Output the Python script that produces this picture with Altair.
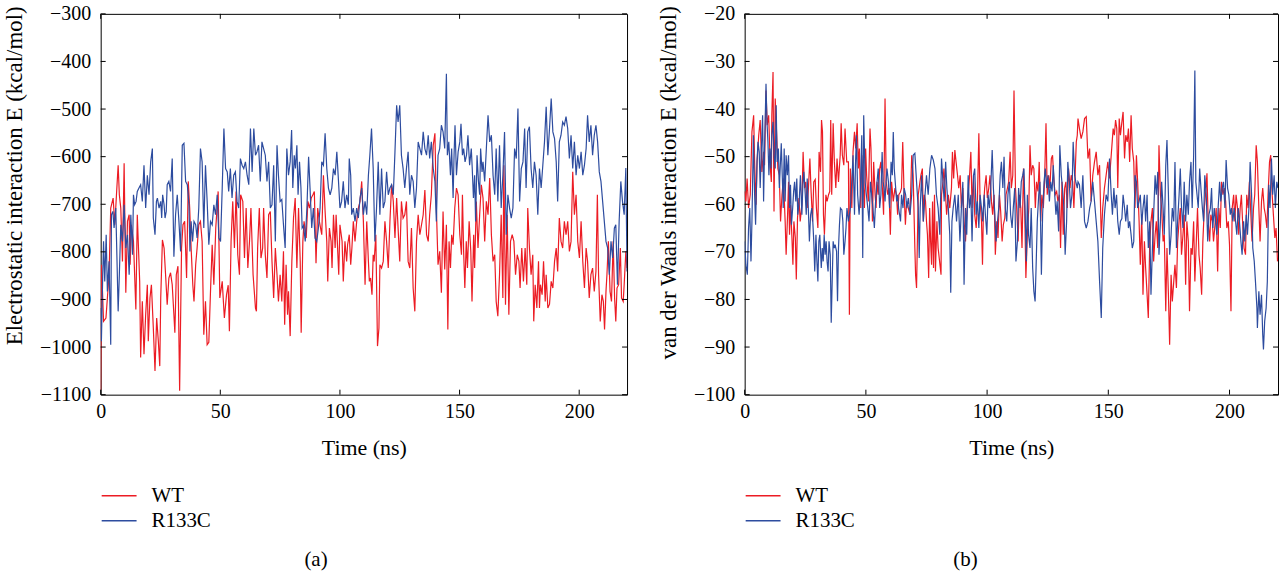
import altair as alt
import pandas as pd

FONT = "Liberation Serif"
RED = "#EC1C24"
BLUE = "#2D4C9F"

time_ticks = [0, 50, 100, 150, 200]
elec_ticks = [-1100, -1000, -900, -800, -700, -600, -500, -400, -300]
vdw_ticks = [-100, -90, -80, -70, -60, -50, -40, -30, -20]

# (time ns, electrostatic energy kcal/mol)
wt_elec = [
    (0.0, -1090), (0.35, -827), (1.2, -946), (2.2, -939), (2.8, -897), (3.5, -848), (4.2, -708), (5.2, -687),
    (5.9, -743), (6.6, -680), (7.3, -618), (7.8, -680), (8.4, -708), (9.1, -820), (9.8, -614), (10.5, -886),
    (11.2, -736), (11.9, -722), (12.3, -827), (12.8, -743), (13.7, -778), (14.7, -921), (15.3, -722), (16.3, -862),
    (16.7, -1022), (17.4, -904), (18.1, -1015), (18.8, -932), (19.5, -869), (19.9, -988), (20.6, -897), (21.2, -869),
    (22.0, -960), (22.7, -1050), (23.4, -939), (24.1, -988), (24.7, -1040), (25.1, -897), (25.8, -775), (26.5, -792),
    (27.2, -855), (27.8, -911), (28.5, -855), (29.2, -844), (29.9, -869), (30.6, -932), (31.0, -970), (31.6, -848),
    (32.3, -830), (33.0, -1092), (33.8, -792), (34.4, -743), (35.1, -736), (35.9, -855), (36.6, -652), (37.2, -708),
    (37.8, -792), (38.5, -869), (39.0, -904), (39.7, -827), (40.3, -792), (41.0, -743), (41.7, -736), (42.4, -778),
    (43.1, -974), (43.8, -904), (44.5, -995), (45.2, -990), (45.9, -883), (46.6, -785), (47.3, -869), (48.1, -750),
    (49.1, -673), (49.8, -897), (50.8, -862), (51.7, -939), (52.6, -890), (53.3, -870), (53.8, -967), (54.5, -778),
    (55.2, -694), (55.9, -792), (56.6, -673), (57.3, -806), (58.0, -848), (58.5, -680), (59.4, -694), (60.1, -813),
    (60.8, -708), (61.5, -834), (62.2, -778), (62.8, -708), (63.7, -848), (64.7, -918), (65.1, -925), (65.6, -792),
    (66.3, -708), (67.0, -813), (67.7, -792), (68.1, -708), (68.8, -806), (69.5, -855), (70.2, -722), (70.9, -715),
    (71.6, -820), (72.3, -897), (73.0, -792), (73.7, -848), (74.3, -904), (75.0, -848), (75.7, -904), (76.4, -799),
    (76.9, -953), (77.5, -827), (78.1, -932), (78.5, -883), (79.2, -977), (79.9, -820), (80.6, -729), (81.3, -687),
    (82.0, -834), (82.7, -708), (83.4, -820), (83.8, -970), (84.5, -778), (85.0, -736), (85.9, -771), (86.6, -694),
    (87.3, -708), (88.0, -687), (88.7, -680), (89.3, -673), (90.0, -824), (90.7, -708), (91.4, -736), (92.4, -764),
    (93.1, -639), (93.8, -715), (94.5, -778), (94.9, -862), (95.6, -750), (96.3, -778), (96.7, -834), (97.3, -722),
    (98.0, -792), (98.4, -722), (98.9, -778), (99.5, -848), (100.0, -743), (100.9, -778), (101.4, -862), (102.1, -778),
    (102.8, -820), (103.2, -785), (103.9, -764), (104.5, -827), (105.0, -792), (105.6, -736), (106.3, -778), (107.0, -736),
    (107.7, -708), (108.4, -694), (109.1, -652), (109.8, -736), (110.5, -869), (111.2, -736), (111.9, -820), (112.3, -862),
    (112.8, -855), (113.4, -890), (113.9, -806), (114.3, -820), (115.0, -764), (115.7, -998), (116.3, -960), (116.7, -827),
    (117.4, -834), (118.1, -820), (118.8, -736), (119.5, -778), (120.2, -834), (120.9, -736), (121.6, -659), (122.3, -694),
    (123.0, -771), (123.7, -687), (124.3, -750), (125.0, -820), (125.7, -694), (126.4, -729), (127.1, -722), (127.8, -694),
    (128.5, -820), (129.2, -834), (129.9, -750), (130.6, -876), (131.3, -925), (132.0, -778), (132.7, -722), (133.4, -764),
    (134.1, -743), (134.8, -722), (135.5, -670), (136.2, -764), (136.9, -778), (137.5, -722), (138.2, -680), (139.0, -576),
    (139.7, -551), (140.3, -708), (141.0, -827), (141.7, -799), (142.4, -886), (143.1, -715), (143.8, -837), (144.5, -743),
    (145.1, -963), (145.6, -778), (146.2, -834), (146.7, -764), (147.3, -785), (148.0, -708), (148.7, -666), (149.4, -680),
    (150.1, -764), (150.8, -806), (151.2, -680), (151.7, -799), (152.2, -876), (152.8, -778), (153.3, -834), (154.0, -736),
    (154.7, -799), (155.2, -904), (155.9, -764), (156.3, -834), (157.0, -694), (157.7, -792), (158.4, -722), (159.1, -659),
    (159.8, -687), (160.5, -778), (161.2, -694), (161.9, -722), (162.6, -645), (163.3, -764), (164.0, -820), (164.7, -806),
    (165.3, -904), (166.0, -935), (166.7, -848), (167.4, -722), (168.1, -897), (168.5, -618), (169.2, -911), (169.9, -722),
    (170.6, -932), (171.3, -778), (172.0, -764), (172.7, -778), (173.4, -848), (174.1, -806), (174.8, -820), (175.3, -876),
    (176.0, -792), (176.7, -862), (177.4, -792), (178.1, -869), (178.5, -708), (179.2, -792), (179.9, -848), (180.6, -806),
    (181.0, -946), (181.6, -869), (182.3, -918), (183.0, -820), (183.4, -918), (183.8, -869), (184.5, -890), (185.1, -820),
    (185.8, -904), (186.2, -848), (186.9, -918), (187.6, -910), (188.3, -862), (189.0, -876), (189.7, -820), (190.4, -792),
    (191.0, -841), (191.7, -729), (192.4, -778), (193.1, -792), (193.8, -736), (194.5, -764), (195.2, -736), (195.9, -799),
    (196.6, -778), (197.3, -632), (198.0, -722), (198.7, -680), (199.4, -778), (200.1, -813), (200.8, -736), (201.5, -820),
    (202.2, -876), (202.9, -792), (203.5, -820), (204.2, -897), (204.9, -848), (205.6, -834), (206.3, -883), (207.0, -841),
    (207.6, -680), (208.1, -848), (208.8, -946), (209.5, -890), (210.1, -904), (210.6, -963), (211.2, -883), (211.6, -848),
    (212.2, -778), (212.9, -883), (213.5, -904), (214.2, -778), (214.8, -897), (215.3, -946), (215.8, -876), (216.5, -869),
    (217.2, -792), (217.7, -897), (218.4, -904), (218.8, -869), (219.5, -799), (220.0, -834),
]

r133c_elec = [
    (0.0, -918), (0.3, -988), (0.8, -862), (1.2, -778), (1.7, -862), (2.3, -764), (2.8, -883), (3.5, -820),
    (4.2, -995), (4.5, -722), (5.1, -715), (5.6, -750), (6.3, -708), (6.7, -792), (7.3, -925), (7.8, -848),
    (8.4, -743), (9.1, -778), (9.8, -701), (10.5, -792), (11.2, -764), (11.9, -848), (12.6, -722), (13.3, -806),
    (13.7, -680), (14.2, -701), (14.8, -694), (15.3, -673), (16.0, -666), (16.7, -659), (17.4, -694), (18.1, -618),
    (18.8, -708), (19.5, -639), (20.2, -680), (20.9, -611), (21.6, -583), (22.0, -729), (22.7, -764), (23.3, -694),
    (23.7, -687), (24.4, -708), (25.1, -694), (25.5, -729), (25.9, -680), (26.5, -701), (26.9, -729), (27.4, -715),
    (27.8, -659), (28.5, -652), (29.2, -673), (29.9, -604), (30.6, -810), (31.3, -722), (32.0, -680), (32.7, -736),
    (33.4, -799), (34.1, -576), (34.8, -572), (35.5, -652), (36.2, -659), (36.9, -701), (37.3, -799), (37.8, -736),
    (38.4, -778), (39.0, -736), (39.7, -743), (40.3, -771), (41.0, -708), (41.7, -583), (42.4, -611), (43.1, -750),
    (43.8, -618), (44.5, -694), (45.2, -785), (45.9, -736), (46.6, -743), (47.3, -701), (48.0, -722), (48.7, -680),
    (49.4, -771), (50.1, -778), (50.8, -666), (51.5, -541), (52.2, -625), (52.9, -632), (53.5, -673), (54.2, -625),
    (54.9, -687), (55.6, -639), (56.3, -632), (57.0, -694), (57.7, -708), (58.4, -604), (59.1, -618), (59.8, -625),
    (60.5, -611), (61.2, -639), (61.9, -659), (62.6, -541), (63.3, -632), (64.0, -541), (64.7, -597), (65.3, -590),
    (66.0, -576), (66.7, -652), (67.4, -569), (68.1, -583), (68.8, -597), (69.5, -652), (70.2, -611), (70.9, -708),
    (71.6, -701), (72.3, -618), (73.0, -778), (73.7, -576), (74.3, -639), (75.0, -694), (75.7, -690), (76.4, -743),
    (77.1, -792), (77.8, -583), (78.5, -639), (79.2, -611), (79.8, -544), (80.3, -666), (80.9, -597), (81.4, -625),
    (82.0, -576), (82.5, -680), (83.1, -611), (83.7, -666), (84.2, -750), (84.8, -745), (85.5, -778), (86.2, -708),
    (86.9, -600), (87.5, -666), (88.2, -750), (88.9, -708), (89.6, -771), (90.3, -778), (91.0, -750), (91.7, -708),
    (92.4, -611), (93.1, -618), (93.8, -551), (94.5, -625), (95.2, -666), (95.9, -680), (96.6, -666), (97.3, -625),
    (98.0, -639), (98.7, -590), (99.4, -652), (100.0, -708), (100.7, -694), (101.4, -652), (102.1, -708), (102.8, -680),
    (103.5, -701), (103.9, -604), (104.5, -639), (104.9, -722), (105.6, -708), (106.3, -736), (107.0, -708), (107.7, -729),
    (108.4, -687), (109.1, -666), (109.8, -722), (110.5, -694), (111.2, -722), (111.9, -639), (112.5, -597), (113.2, -541),
    (113.9, -625), (114.6, -778), (115.3, -708), (116.0, -611), (116.7, -722), (117.4, -625), (118.1, -708), (118.8, -694),
    (119.5, -632), (120.2, -680), (120.9, -666), (121.6, -659), (122.3, -680), (123.0, -590), (123.7, -492), (124.3, -527),
    (125.0, -492), (125.7, -597), (126.4, -625), (127.1, -666), (127.8, -625), (128.5, -590), (129.2, -680), (129.9, -639),
    (130.6, -652), (131.3, -708), (132.0, -666), (132.7, -569), (133.4, -583), (134.1, -597), (134.8, -548), (135.5, -583),
    (136.2, -597), (136.9, -555), (137.5, -604), (138.2, -569), (139.0, -625), (139.7, -652), (140.3, -736), (141.0, -597),
    (141.7, -583), (142.4, -534), (143.1, -548), (143.8, -583), (144.5, -426), (144.9, -597), (145.5, -569), (146.2, -639),
    (146.7, -583), (147.3, -687), (147.7, -597), (148.1, -534), (148.7, -639), (149.4, -590), (150.1, -569), (150.6, -531),
    (151.2, -597), (151.7, -583), (152.3, -611), (152.9, -597), (153.5, -555), (154.2, -618), (154.9, -583), (155.3, -625),
    (155.8, -687), (156.3, -639), (156.7, -736), (157.3, -597), (157.9, -652), (158.4, -680), (158.8, -583), (159.4, -632),
    (159.8, -611), (160.5, -652), (161.2, -583), (161.9, -513), (162.6, -569), (163.3, -555), (164.0, -639), (164.7, -680),
    (165.3, -583), (166.0, -694), (166.7, -576), (167.4, -708), (168.1, -639), (168.8, -548), (169.5, -764), (170.2, -680),
    (170.9, -708), (171.6, -729), (172.3, -708), (173.0, -583), (173.7, -604), (174.4, -499), (175.1, -694), (175.8, -625),
    (176.5, -611), (177.2, -541), (177.8, -666), (178.5, -548), (179.2, -537), (179.9, -625), (180.6, -666), (181.3, -611),
    (182.0, -639), (182.7, -722), (183.4, -625), (184.1, -666), (184.8, -618), (185.5, -569), (186.2, -495), (186.9, -597),
    (187.6, -541), (188.3, -478), (189.0, -548), (189.7, -562), (190.4, -611), (191.0, -694), (191.7, -569), (192.4, -555),
    (193.1, -527), (193.8, -534), (194.5, -516), (195.2, -541), (195.9, -604), (196.6, -555), (197.3, -625), (198.0, -569),
    (198.7, -639), (199.4, -597), (200.1, -625), (200.8, -590), (201.5, -639), (202.2, -618), (202.9, -583), (203.5, -513),
    (204.2, -569), (204.9, -534), (205.6, -597), (206.3, -555), (207.0, -534), (207.7, -569), (208.4, -632), (209.1, -652),
    (209.8, -694), (210.5, -736), (211.2, -778), (211.9, -792), (212.6, -848), (213.3, -778), (214.0, -813), (214.7, -750),
    (215.3, -743), (216.0, -869), (216.7, -736), (217.4, -652), (218.1, -694), (218.8, -722), (219.5, -624), (220.0, -841),
]

# (time ns, van der Waals energy kcal/mol)
wt_vdw = [
    (0.0, -57.3), (0.5, -59.4), (1.0, -54.6), (1.6, -60.8), (2.3, -58.0), (3.0, -44.8), (3.7, -41.3), (4.1, -51.1),
    (4.7, -60.1), (5.1, -51.1), (5.8, -45.5), (6.4, -42.3), (7.1, -53.2), (7.8, -49.0), (8.2, -51.8), (8.8, -36.1),
    (9.3, -43.4), (9.9, -41.3), (10.6, -52.5), (11.0, -55.3), (11.2, -41.3), (11.7, -32.2), (12.1, -61.5), (12.6, -37.8),
    (13.2, -45.5), (13.7, -52.5), (14.3, -53.9), (14.8, -63.6), (15.4, -58.0), (16.0, -54.6), (16.7, -63.6), (17.1, -70.6),
    (17.7, -62.2), (18.1, -55.3), (18.5, -66.4), (18.9, -60.1), (19.5, -67.1), (19.9, -72.7), (20.3, -63.6), (20.9, -67.1),
    (21.3, -75.8), (21.8, -62.9), (22.4, -58.7), (22.9, -63.6), (23.6, -60.1), (24.1, -49.0), (24.7, -56.6), (25.2, -55.3),
    (25.8, -60.8), (26.3, -56.6), (26.9, -50.4), (27.4, -57.3), (28.0, -63.6), (28.5, -55.3), (29.1, -54.8), (29.6, -60.8),
    (30.2, -65.0), (30.7, -49.0), (31.3, -53.2), (31.7, -42.3), (32.1, -44.8), (32.5, -62.2), (32.9, -66.4), (33.5, -58.0),
    (34.0, -59.4), (34.6, -58.0), (35.1, -57.3), (35.5, -42.3), (35.9, -58.0), (36.5, -43.0), (37.0, -51.1), (37.6, -56.6),
    (38.1, -50.4), (38.7, -55.3), (39.4, -49.7), (39.8, -43.0), (40.3, -49.7), (40.9, -51.8), (41.4, -44.1), (42.1, -51.1),
    (42.8, -51.1), (43.2, -83.2), (43.6, -52.5), (44.2, -60.8), (44.7, -49.0), (45.3, -44.8), (45.8, -48.3), (46.4, -43.0),
    (46.9, -52.5), (47.3, -48.3), (47.9, -60.8), (48.3, -49.7), (48.8, -54.6), (49.4, -60.8), (49.9, -48.3), (50.3, -53.9),
    (51.0, -59.4), (51.7, -44.1), (52.1, -48.3), (52.7, -63.6), (53.2, -51.1), (53.8, -58.0), (54.2, -60.8), (54.6, -55.3),
    (55.1, -58.0), (55.7, -52.5), (56.2, -51.1), (56.8, -56.6), (57.3, -62.2), (57.9, -37.8), (58.4, -55.3), (59.0, -58.0),
    (59.5, -56.6), (60.1, -66.4), (60.6, -55.3), (61.3, -59.4), (62.0, -56.6), (62.6, -58.0), (63.1, -62.2), (63.6, -58.0),
    (64.2, -57.5), (64.7, -56.6), (65.2, -46.9), (65.7, -56.6), (66.3, -64.3), (66.8, -59.4), (67.5, -60.8), (68.2, -62.2),
    (68.9, -49.7), (69.5, -53.9), (70.2, -69.2), (70.5, -74.8), (70.9, -77.6), (71.6, -58.0), (72.3, -55.3), (72.7, -53.9),
    (73.3, -52.5), (73.7, -63.6), (74.1, -58.0), (74.6, -59.4), (75.0, -63.6), (75.4, -66.4), (75.9, -75.5), (76.3, -60.8),
    (76.7, -67.8), (77.1, -72.7), (77.5, -59.4), (77.9, -73.4), (78.3, -58.0), (78.7, -74.1), (79.3, -63.6), (79.8, -69.2),
    (80.4, -72.0), (81.0, -74.8), (81.2, -58.0), (81.8, -55.3), (82.2, -52.5), (82.7, -56.6), (83.3, -62.2), (84.0, -58.0),
    (84.6, -60.8), (85.3, -56.6), (85.7, -49.0), (86.2, -54.6), (86.7, -48.6), (87.2, -51.1), (87.8, -53.9), (88.3, -56.6),
    (88.9, -53.9), (89.4, -60.8), (90.0, -56.6), (90.5, -63.6), (91.1, -67.8), (91.6, -62.2), (92.2, -58.0), (92.7, -54.6),
    (93.3, -49.0), (93.8, -60.8), (94.4, -53.9), (94.9, -62.2), (95.5, -65.0), (96.0, -59.4), (96.6, -45.1), (97.1, -59.4),
    (97.7, -63.6), (98.1, -72.7), (98.5, -60.8), (99.0, -56.6), (99.6, -53.9), (100.1, -58.7), (100.7, -56.6), (101.2, -53.9),
    (101.8, -59.4), (102.3, -62.2), (102.9, -58.0), (103.4, -70.6), (104.0, -63.6), (104.5, -67.1), (105.1, -58.0), (105.6, -61.5),
    (106.2, -67.8), (106.7, -64.3), (107.3, -62.9), (107.8, -58.0), (108.4, -56.6), (108.9, -55.3), (109.5, -49.0), (110.0, -56.6),
    (110.6, -53.9), (111.1, -36.1), (111.7, -56.6), (112.2, -60.8), (112.8, -67.8), (113.3, -58.0), (113.9, -60.8), (114.4, -69.2),
    (115.0, -52.5), (115.5, -60.8), (116.0, -75.5), (116.6, -66.4), (117.2, -60.8), (117.7, -47.6), (118.2, -53.9), (118.8, -51.8),
    (119.3, -52.5), (119.9, -60.8), (120.4, -55.3), (121.0, -57.3), (121.5, -51.1), (122.1, -63.6), (122.6, -58.0), (123.2, -60.8),
    (123.7, -55.3), (124.3, -43.0), (124.8, -58.0), (125.4, -53.9), (125.9, -56.6), (126.5, -50.4), (127.0, -49.7), (127.6, -55.3),
    (128.1, -58.0), (128.7, -57.3), (129.2, -59.4), (129.8, -58.0), (130.3, -69.2), (130.9, -55.3), (131.4, -66.4), (132.0, -56.6),
    (132.5, -55.3), (133.1, -60.8), (133.6, -52.5), (134.2, -56.6), (134.7, -53.9), (135.3, -55.3), (135.8, -60.8), (136.4, -52.5),
    (136.8, -46.9), (137.2, -45.5), (137.5, -42.0), (138.1, -44.1), (138.8, -46.2), (139.5, -44.8), (140.2, -42.0), (140.9, -41.6),
    (141.6, -50.4), (142.3, -48.3), (142.9, -59.4), (143.6, -53.9), (144.3, -51.1), (145.0, -49.0), (145.7, -53.9), (146.4, -51.8),
    (147.1, -67.1), (147.7, -60.8), (148.4, -56.6), (149.1, -53.9), (149.8, -51.1), (150.5, -54.6), (151.2, -49.7), (151.6, -46.9),
    (152.0, -44.1), (152.5, -45.5), (153.0, -42.3), (153.5, -44.1), (153.9, -56.6), (154.5, -42.0), (155.0, -45.5), (155.6, -42.7),
    (156.1, -40.6), (156.7, -50.4), (157.2, -45.5), (157.8, -46.9), (158.3, -44.1), (158.8, -51.1), (159.4, -41.3), (159.9, -48.3),
    (160.5, -51.1), (161.0, -60.8), (161.6, -49.7), (162.1, -55.3), (162.7, -63.6), (163.2, -72.7), (163.8, -62.2), (164.3, -79.0),
    (164.9, -67.8), (165.4, -73.4), (166.0, -79.0), (166.5, -83.9), (167.1, -67.8), (167.6, -63.6), (168.2, -60.8), (168.7, -72.0),
    (169.3, -66.4), (169.8, -63.6), (170.4, -69.2), (170.9, -47.6), (171.5, -58.0), (172.0, -60.8), (172.6, -67.8), (173.1, -66.4),
    (173.7, -82.5), (174.2, -69.2), (174.8, -79.0), (175.3, -89.5), (175.9, -74.8), (176.4, -80.4), (177.0, -76.2), (177.5, -72.7),
    (178.1, -77.6), (178.6, -67.8), (179.2, -63.6), (179.7, -60.8), (180.2, -70.6), (180.8, -66.4), (181.3, -62.2), (181.9, -76.9),
    (182.4, -63.6), (183.0, -67.8), (183.5, -82.5), (184.1, -69.2), (184.6, -70.6), (185.2, -63.6), (185.7, -76.2), (186.3, -67.8),
    (186.8, -60.8), (187.4, -70.6), (187.9, -73.4), (188.5, -79.0), (189.0, -67.8), (189.6, -60.8), (190.1, -58.0), (190.7, -53.5),
    (191.2, -63.6), (191.8, -67.8), (192.3, -62.2), (192.9, -63.6), (193.4, -67.8), (194.0, -64.3), (194.5, -60.8), (195.1, -74.1),
    (195.6, -60.8), (196.2, -65.0), (196.7, -55.3), (197.3, -58.0), (197.8, -56.6), (198.4, -59.4), (198.9, -65.0), (199.5, -63.6),
    (200.0, -68.5), (200.6, -82.5), (201.1, -60.8), (201.7, -58.0), (202.2, -63.6), (202.7, -58.0), (203.3, -60.8), (203.8, -66.4),
    (204.4, -60.8), (204.9, -58.0), (205.5, -65.0), (206.0, -69.2), (206.6, -70.6), (207.1, -58.0), (207.7, -60.8), (208.2, -55.3),
    (208.8, -62.2), (209.3, -67.8), (209.9, -60.8), (210.4, -58.0), (211.0, -47.6), (211.5, -51.1), (212.1, -60.8), (212.6, -67.8),
    (213.2, -59.4), (213.7, -56.6), (214.3, -60.8), (214.8, -62.2), (215.4, -65.0), (215.9, -58.0), (216.5, -51.1), (217.0, -49.7),
    (217.6, -58.0), (218.1, -62.2), (218.7, -67.1), (219.2, -65.0), (219.8, -72.0),
]

r133c_vdw = [
    (0.0, -67.8), (0.5, -72.7), (1.1, -74.8), (1.6, -65.0), (2.1, -60.8), (2.6, -72.0), (3.0, -63.6), (3.6, -45.5),
    (4.1, -58.0), (4.5, -64.3), (5.1, -51.1), (5.5, -46.9), (6.0, -49.0), (6.4, -56.6), (6.9, -48.3), (7.4, -41.3),
    (7.8, -59.4), (8.2, -48.3), (8.8, -34.7), (9.2, -42.7), (9.6, -46.9), (10.0, -53.9), (10.4, -48.3), (10.8, -52.5),
    (11.2, -45.5), (11.7, -42.7), (12.1, -49.7), (12.6, -52.5), (13.0, -39.2), (13.4, -51.1), (13.9, -48.3), (14.3, -56.6),
    (14.7, -51.8), (15.1, -47.2), (15.5, -53.9), (15.9, -60.8), (16.3, -48.3), (16.7, -59.4), (17.1, -49.7), (17.6, -53.9),
    (18.1, -49.7), (18.5, -60.8), (18.9, -55.9), (19.3, -64.3), (19.8, -60.8), (20.2, -57.3), (20.6, -55.3), (21.1, -59.4),
    (21.5, -54.6), (21.9, -62.2), (22.5, -59.4), (23.0, -53.9), (23.6, -62.2), (24.0, -55.9), (24.4, -53.2), (25.0, -58.0),
    (25.4, -62.2), (25.8, -54.6), (26.3, -61.5), (26.7, -67.8), (27.2, -62.2), (27.7, -60.8), (28.1, -63.6), (28.5, -67.8),
    (28.9, -74.1), (29.4, -66.4), (29.8, -72.0), (30.2, -76.2), (30.6, -67.8), (31.0, -66.4), (31.6, -73.4), (32.0, -69.2),
    (32.4, -72.0), (32.8, -66.4), (33.2, -70.6), (33.6, -67.8), (34.0, -72.0), (34.4, -74.1), (34.8, -67.8), (35.3, -70.6),
    (35.7, -84.9), (36.1, -76.2), (36.5, -67.8), (36.9, -69.2), (37.3, -68.5), (37.9, -69.9), (38.3, -80.4), (38.7, -69.2),
    (39.1, -64.3), (39.5, -60.8), (40.1, -61.2), (40.5, -63.6), (40.9, -70.6), (41.4, -67.8), (41.8, -65.0), (42.2, -60.8),
    (42.8, -63.6), (43.2, -62.2), (43.6, -60.8), (44.2, -55.3), (44.7, -49.7), (45.3, -62.2), (45.7, -51.8), (46.1, -45.5),
    (46.6, -58.0), (47.2, -62.2), (47.7, -58.0), (48.3, -45.5), (48.7, -71.3), (49.1, -41.3), (49.7, -55.3), (50.2, -58.0),
    (50.8, -60.8), (51.3, -63.6), (51.9, -55.3), (52.4, -58.0), (52.9, -60.8), (53.5, -65.0), (54.0, -59.4), (54.6, -55.3),
    (55.1, -52.5), (55.7, -60.8), (56.2, -58.0), (56.7, -49.0), (57.1, -55.3), (57.5, -56.6), (57.9, -59.4), (58.3, -55.3),
    (58.7, -52.5), (59.3, -55.3), (59.8, -60.8), (60.4, -51.1), (60.9, -53.9), (61.3, -44.8), (61.7, -52.5), (62.1, -55.3),
    (62.7, -59.4), (63.1, -58.0), (63.5, -60.8), (63.9, -62.2), (64.3, -63.6), (64.7, -58.0), (65.3, -60.8), (65.8, -56.6),
    (66.4, -58.0), (66.9, -60.8), (67.5, -58.7), (68.2, -62.2), (68.9, -58.0), (69.5, -49.7), (70.2, -49.3), (70.9, -55.3),
    (71.6, -60.8), (72.0, -71.3), (72.4, -60.8), (73.0, -53.9), (73.7, -63.6), (74.4, -58.0), (75.0, -53.9), (75.7, -58.0),
    (76.4, -52.5), (77.1, -49.7), (77.8, -50.7), (78.5, -52.5), (79.1, -58.0), (79.8, -60.8), (80.5, -66.4), (81.2, -50.4),
    (81.8, -55.3), (82.3, -59.4), (82.9, -51.1), (83.4, -56.6), (84.0, -60.8), (84.6, -66.4), (85.0, -78.6), (85.5, -63.6),
    (86.0, -60.8), (86.7, -58.0), (87.4, -63.6), (88.1, -58.0), (88.8, -67.8), (89.4, -60.8), (90.0, -55.3), (90.5, -76.9),
    (91.1, -60.8), (91.6, -66.4), (92.2, -53.9), (92.7, -60.8), (93.3, -58.0), (93.8, -67.8), (94.4, -53.9), (94.9, -52.5),
    (95.5, -62.2), (96.0, -59.4), (96.6, -65.0), (97.1, -58.0), (97.7, -60.8), (98.2, -63.6), (98.8, -58.0), (99.3, -62.2),
    (99.9, -66.4), (100.4, -58.0), (101.0, -60.8), (101.5, -56.6), (102.1, -48.6), (102.6, -56.6), (103.2, -62.2), (103.7, -67.8),
    (104.3, -63.6), (104.8, -60.8), (105.4, -53.9), (105.9, -51.1), (106.5, -56.6), (107.0, -50.0), (107.5, -60.8), (108.1, -63.6),
    (108.6, -58.0), (109.2, -55.3), (109.7, -62.2), (110.3, -65.0), (110.8, -60.8), (111.4, -56.6), (111.9, -72.0), (112.5, -67.8),
    (113.0, -56.6), (113.6, -60.8), (114.1, -55.3), (114.7, -53.9), (115.2, -52.5), (115.8, -63.6), (116.2, -72.0), (116.6, -58.0),
    (117.1, -66.4), (117.7, -69.2), (118.2, -60.8), (118.8, -73.4), (119.3, -78.3), (119.8, -80.4), (120.2, -73.4), (120.7, -63.6),
    (121.3, -58.0), (121.8, -55.3), (122.4, -74.8), (122.9, -62.2), (123.5, -55.3), (124.0, -52.5), (124.6, -56.6), (125.1, -53.9),
    (125.7, -59.4), (126.2, -55.3), (126.8, -57.3), (127.3, -51.8), (127.9, -58.0), (128.4, -62.2), (128.9, -59.4), (129.5, -65.7),
    (130.0, -47.6), (130.6, -53.9), (131.1, -56.6), (131.7, -60.8), (132.2, -70.6), (132.8, -63.6), (133.3, -51.1), (133.9, -55.3),
    (134.4, -60.8), (135.0, -58.0), (135.5, -46.9), (136.1, -53.9), (136.6, -55.3), (137.2, -56.6), (137.5, -55.3), (138.1, -55.9),
    (138.8, -60.8), (139.5, -53.9), (140.2, -63.6), (140.9, -65.0), (141.6, -63.6), (142.3, -60.8), (142.9, -59.4), (143.6, -55.3),
    (144.3, -59.4), (145.0, -63.6), (145.7, -67.8), (146.4, -76.2), (147.1, -83.9), (147.7, -69.2), (148.4, -62.2), (149.1, -58.0),
    (149.8, -59.4), (150.5, -50.4), (151.2, -58.0), (151.7, -62.2), (152.3, -56.6), (152.8, -60.8), (153.4, -58.0), (153.9, -63.6),
    (154.5, -66.4), (155.0, -63.6), (155.6, -63.0), (156.1, -58.0), (156.7, -60.8), (157.2, -63.6), (157.8, -60.1), (158.3, -65.0),
    (158.8, -63.6), (159.4, -66.4), (159.9, -69.2), (160.5, -67.8), (161.0, -53.9), (161.6, -55.3), (162.1, -60.8), (162.7, -59.4),
    (163.2, -58.0), (163.8, -64.3), (164.3, -60.8), (164.9, -58.0), (165.4, -63.6), (166.0, -58.0), (166.5, -69.2), (167.1, -63.6),
    (167.6, -79.0), (168.2, -69.2), (168.7, -62.2), (169.3, -53.9), (169.8, -58.0), (170.4, -53.2), (170.9, -70.6), (171.5, -63.6),
    (172.0, -55.3), (172.6, -60.8), (173.1, -66.4), (173.7, -51.8), (174.2, -46.5), (174.8, -58.0), (175.3, -70.6), (175.9, -66.4),
    (176.4, -60.8), (177.0, -63.6), (177.5, -51.1), (178.1, -69.2), (178.6, -63.6), (179.2, -58.0), (179.7, -52.5), (180.2, -60.8),
    (180.8, -65.0), (181.3, -55.3), (181.9, -63.6), (182.4, -58.0), (183.0, -62.2), (183.5, -55.3), (184.1, -51.1), (184.6, -60.8),
    (185.2, -49.7), (185.7, -31.9), (186.1, -55.3), (186.6, -58.0), (187.1, -60.8), (187.7, -52.5), (188.2, -56.6), (188.8, -60.8),
    (189.3, -63.6), (189.8, -53.9), (190.4, -58.0), (191.0, -67.8), (191.5, -62.2), (192.1, -60.8), (192.6, -56.6), (193.1, -65.0),
    (193.7, -60.8), (194.2, -63.6), (194.8, -66.4), (195.3, -60.8), (195.9, -55.3), (196.4, -59.4), (197.0, -56.6), (197.5, -55.3),
    (198.1, -60.8), (198.6, -50.7), (199.2, -56.6), (199.7, -58.0), (200.3, -62.2), (200.8, -60.8), (201.4, -63.6), (201.9, -60.8),
    (202.5, -63.6), (203.0, -66.4), (203.6, -60.8), (204.1, -63.6), (204.7, -67.8), (205.2, -70.6), (205.8, -63.6), (206.3, -67.8),
    (206.9, -62.2), (207.4, -66.4), (208.0, -60.8), (208.5, -51.1), (209.1, -58.0), (209.6, -69.2), (210.2, -72.0), (210.7, -76.2),
    (211.3, -81.8), (211.5, -86.0), (212.1, -78.3), (212.6, -83.2), (213.2, -79.0), (213.7, -87.4), (214.0, -90.5), (214.5, -84.6),
    (215.1, -81.8), (215.6, -76.2), (216.2, -55.9), (216.7, -60.8), (217.3, -50.4), (217.8, -58.0), (218.4, -53.9), (218.9, -60.8),
    (219.5, -55.3), (220.0, -56.6),
]

series_names = ["WT", "R133C"]


def panel(wt, mut, ydomain, yticks, ytitle, title_y, caption, width, height, caption_dx):
    wt_df = pd.DataFrame(wt, columns=["t", "E"])
    wt_df["series"] = series_names[0]
    mut_df = pd.DataFrame(mut, columns=["t", "E"])
    mut_df["series"] = series_names[1]

    xenc = alt.X(
        "t:Q",
        scale=alt.Scale(domain=[0, 220], nice=False, zero=False),
        axis=alt.Axis(values=time_ticks, title="Time (ns)", ticks=False, domain=False, grid=False, format="d",
                      labelFlush=False, labelPadding=7, titlePadding=16,
                      labelFont=FONT, titleFont=FONT),
    )
    yenc = alt.Y(
        "E:Q",
        scale=alt.Scale(domain=ydomain, nice=False, zero=False),
        axis=alt.Axis(values=yticks, title=ytitle, ticks=False, domain=False, grid=False, format="d",
                      labelFlush=False, labelPadding=10, titlePadding=13, titleY=title_y,
                      titleFontSize=23, labelFont=FONT, titleFont=FONT),
    )
    color = alt.Color(
        "series:N",
        scale=alt.Scale(domain=series_names, range=[RED, BLUE]),
        legend=alt.Legend(title=None, orient="none", legendX=0, legendY=473, direction="vertical",
                          symbolType="stroke", symbolSize=1225, symbolStrokeWidth=1.5, clipHeight=21,
                          labelFont=FONT, labelFontSize=21, labelColor="black", labelOffset=14,
                          rowPadding=3, padding=0),
    )
    l_wt = alt.Chart(wt_df).mark_line(strokeWidth=1.2, clip=True).encode(x=xenc, y=yenc, color=color)
    l_mut = alt.Chart(mut_df).mark_line(strokeWidth=1.2, clip=True).encode(x=xenc, y=yenc, color=color)

    xt = pd.DataFrame({"t": time_ticks})
    yt = pd.DataFrame({"E": yticks})
    tick_b = alt.Chart(xt).mark_rule(color="black", strokeWidth=1).encode(
        x=xenc, y=alt.value(height), y2=alt.value(height - 5))
    tick_t = alt.Chart(xt).mark_rule(color="black", strokeWidth=1).encode(
        x=xenc, y=alt.value(0), y2=alt.value(5))
    tick_l = alt.Chart(yt).mark_rule(color="black", strokeWidth=1).encode(
        y=yenc, x=alt.value(0), x2=alt.value(5))
    tick_r = alt.Chart(yt).mark_rule(color="black", strokeWidth=1).encode(
        y=yenc, x=alt.value(width), x2=alt.value(width - 5))

    return alt.layer(l_wt, l_mut, tick_b, tick_t, tick_l, tick_r).properties(
        width=width,
        height=height,
        title=alt.TitleParams(caption, orient="bottom", anchor="middle", dx=caption_dx, offset=18,
                              font=FONT, fontSize=21, fontWeight="normal", color="black"),
    )


left = panel(wt_elec, r133c_elec, [-1100, -300], elec_ticks,
             "Electrostatic interaction E (kcal/mol)", 162, "(a)", 528, 382, -48)
right = panel(wt_vdw, r133c_vdw, [-100, -20], vdw_ticks,
              "van der Waals interaction E (kcal/mol)", 169, "(b)", 535, 382, -46)

chart = (
    alt.hconcat(left, right, spacing=29)
    .resolve_scale(x="independent", y="independent", color="independent")
    .resolve_legend(color="independent")
    .properties(padding={"left": 3, "top": 2, "right": 0, "bottom": 0}, background="white")
    .configure_axis(labelFont=FONT, labelFontSize=20, labelColor="black",
                    titleFont=FONT, titleFontSize=22, titleFontWeight="normal", titleColor="black")
    .configure_legend(labelFont=FONT, labelFontSize=21, labelColor="black")
    .configure_title(font=FONT)
    .configure_view(stroke="black", strokeWidth=1)
)

chart.save("out.html", embed_options={"renderer": "svg", "actions": False})
